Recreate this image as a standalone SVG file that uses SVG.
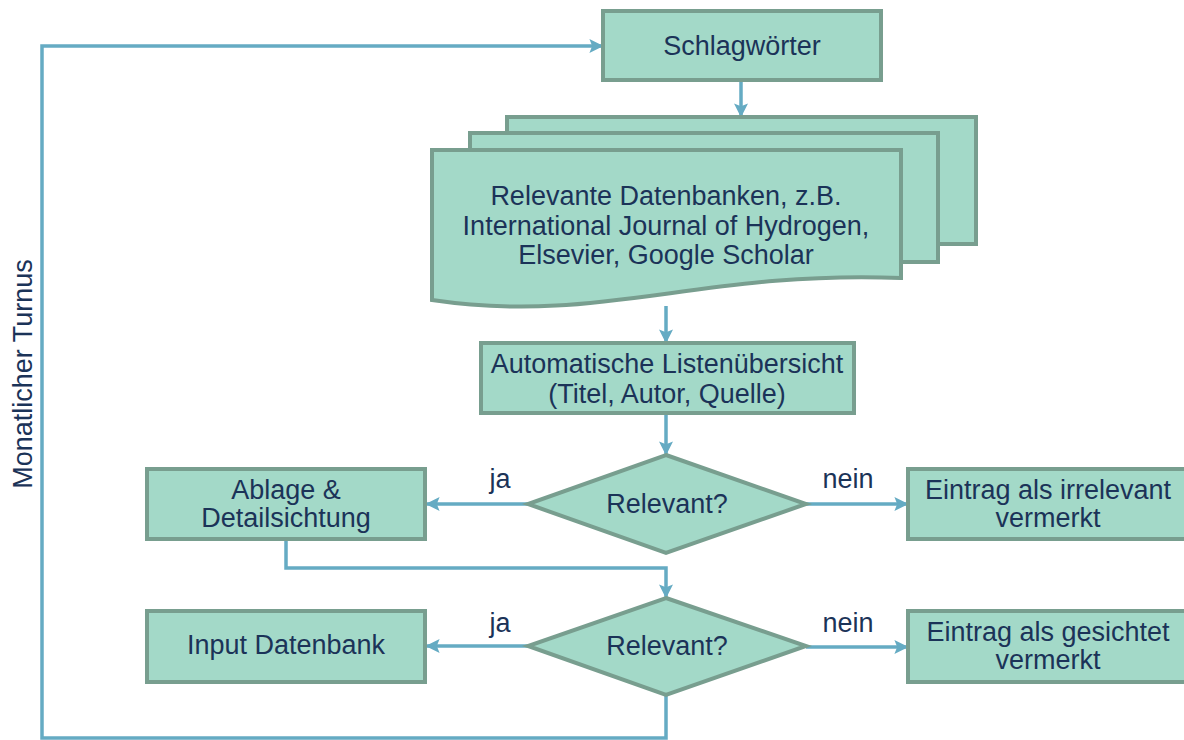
<svg xmlns="http://www.w3.org/2000/svg" width="1184" height="740" viewBox="0 0 1184 740">
<style>
.n{fill:#a3d9c8;stroke:#789e8f;stroke-width:4;stroke-linejoin:miter}
.t{font-family:"Liberation Sans",Arial,sans-serif;font-size:27px;fill:#1b3358;text-anchor:middle}
.c{fill:none;stroke:#65abc3;stroke-width:3.5}
</style>
<defs>
<marker id="a" viewBox="0 0 10 10" refX="9" refY="5" markerWidth="4" markerHeight="4" markerUnits="strokeWidth" orient="auto">
<path d="M0,0 L10,5 L0,10 L2,5 Z" fill="#65abc3"/>
</marker>
</defs>
<rect width="1184" height="740" fill="#fff"/>
<g id="connectors">
<path class="c" d="M741,80 V116" marker-end="url(#a)"/>
<path class="c" d="M666,306 V342" marker-end="url(#a)"/>
<path class="c" d="M666,413 V454" marker-end="url(#a)"/>
<path class="c" d="M528,504 H427" marker-end="url(#a)"/>
<path class="c" d="M806,504 H907" marker-end="url(#a)"/>
<path class="c" d="M286,539 V568 H666 V597" marker-end="url(#a)"/>
<path class="c" d="M528,646 H427" marker-end="url(#a)"/>
<path class="c" d="M806,647 H907" marker-end="url(#a)"/>
<path class="c" d="M666,695 V738 H42 V46 H602" marker-end="url(#a)"/>
<text class="t" x="500" y="488">ja</text>
<text class="t" x="848" y="488">nein</text>
<text class="t" x="500" y="632">ja</text>
<text class="t" x="848" y="632">nein</text>
</g>
<g id="loop-label">
<text class="t" transform="translate(31.5,374) rotate(-90)">Monatlicher Turnus</text>
</g>
<g id="schlagwoerter">
<rect class="n" x="603" y="11" width="278" height="69"/>
<text class="t" x="742" y="55">Schlagwörter</text>
</g>
<g id="datenbanken">
<rect class="n" x="507" y="117" width="469" height="127"/>
<rect class="n" x="470" y="133" width="468" height="129"/>
<path class="n" d="M432,150 H901 V278 C700,270 600,325 432,300 Z"/>
<text class="t"><tspan x="666" y="205">Relevante Datenbanken, z.B.</tspan><tspan x="666" y="235">International Journal of Hydrogen,</tspan><tspan x="666" y="264">Elsevier, Google Scholar</tspan></text>
</g>
<g id="liste">
<rect class="n" x="481" y="343" width="373" height="70"/>
<text class="t"><tspan x="667" y="373">Automatische Listenübersicht</tspan><tspan x="667" y="403">(Titel, Autor, Quelle)</tspan></text>
</g>
<g id="relevant1">
<polygon class="n" points="666,455 806,504 666,553 528,504"/>
<text class="t" x="667" y="513">Relevant?</text>
</g>
<g id="ablage">
<rect class="n" x="147" y="469" width="278" height="70"/>
<text class="t"><tspan x="286" y="499">Ablage &amp;</tspan><tspan x="286" y="527">Detailsichtung</tspan></text>
</g>
<g id="irrelevant">
<rect class="n" x="908" y="469" width="290" height="70"/>
<text class="t"><tspan x="1048" y="499">Eintrag als irrelevant</tspan><tspan x="1048" y="527">vermerkt</tspan></text>
</g>
<g id="relevant2">
<polygon class="n" points="666,598 806,646 666,695 528,646"/>
<text class="t" x="667" y="655">Relevant?</text>
</g>
<g id="input">
<rect class="n" x="147" y="611" width="278" height="71"/>
<text class="t" x="286" y="654">Input Datenbank</text>
</g>
<g id="gesichtet">
<rect class="n" x="908" y="611" width="290" height="71"/>
<text class="t"><tspan x="1048" y="641">Eintrag als gesichtet</tspan><tspan x="1048" y="669">vermerkt</tspan></text>
</g>
</svg>
